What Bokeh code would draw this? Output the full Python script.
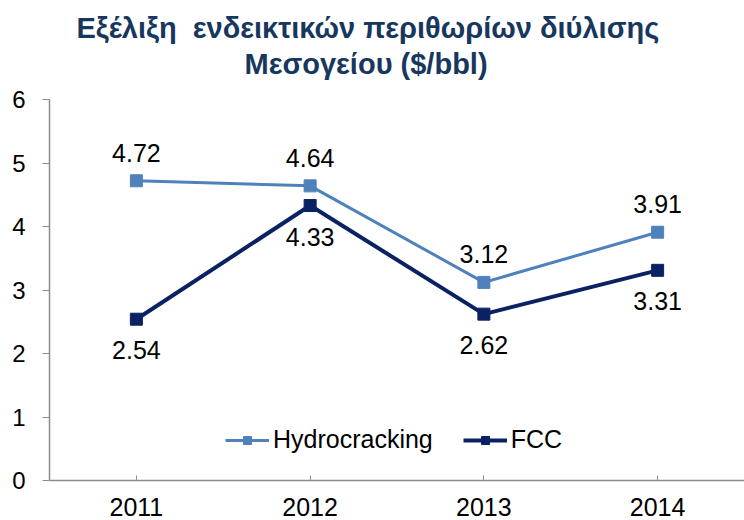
from bokeh.plotting import figure
from bokeh.models import (FactorRange, Range1d, FixedTicker, ColumnDataSource,
                          Legend, LegendItem, Title)
from bokeh.core.properties import value
from bokeh.embed import file_html
from bokeh.resources import INLINE

years = ["2011", "2012", "2013", "2014"]
hydrocracking = [4.72, 4.64, 3.12, 3.91]
fcc = [2.54, 4.33, 2.62, 3.31]
y_ticks = [0, 1, 2, 3, 4, 5, 6]
title_line1 = "Εξέλιξη\u00a0 ενδεικτικών περιθωρίων διύλισης"
title_line2 = "Μεσογείου ($/bbl)"

HC = "#4F81BD"
FC = "#0A2263"
TITLE_C = "#17375E"
AXIS_C = "#8C8C8C"
FONT = "Liberation Sans"

src = ColumnDataSource(dict(
    x=years, h=hydrocracking, f=fcc,
    hl=["%.2f" % v for v in hydrocracking],
    fl=["%.2f" % v for v in fcc],
))

p = figure(width=744, height=520, title=None,
           x_range=FactorRange(factors=years, range_padding=0),
           y_range=Range1d(0, 6),
           output_backend="svg", toolbar_location=None,
           min_border_left=49, min_border_right=0,
           min_border_top=99, min_border_bottom=40)

t2 = Title(text=title_line2, align="left", text_font=FONT,
           text_font_size="29px", text_font_style="bold",
           text_color=TITLE_C, offset=195, standoff=39)
t1 = Title(text=title_line1, align="left", text_font=FONT,
           text_font_size="29px", text_font_style="bold",
           text_color=TITLE_C, offset=27, standoff=-34.5)
p.add_layout(t2, "above")
p.add_layout(t1, "above")

p.outline_line_color = None
p.xgrid.grid_line_color = None
p.ygrid.grid_line_color = None
p.background_fill_color = "white"
p.border_fill_color = "white"

r1l = p.line(x="x", y="h", source=src, line_color=HC, line_width=3)
r1s = p.scatter(x="x", y="h", source=src, marker="square", size=12,
                fill_color=HC, line_color=HC)
r2l = p.line(x="x", y="f", source=src, line_color=FC, line_width=4)
r2s = p.scatter(x="x", y="f", source=src, marker="square", size=12,
                fill_color=FC, line_color=FC)

p.text(x="x", y="h", text="hl", source=src, y_offset=-28,
       text_align="center", text_baseline="middle",
       text_font=value(FONT), text_font_size="25px", text_color="black")
p.text(x="x", y="f", text="fl", source=src, y_offset=31,
       text_align="center", text_baseline="middle",
       text_font=value(FONT), text_font_size="25px", text_color="black")

# axes
p.yaxis.ticker = FixedTicker(ticks=y_ticks)
p.yaxis.minor_tick_line_color = None
p.yaxis.major_tick_out = 7
p.yaxis.major_tick_in = 0
p.yaxis.major_label_standoff = 17
for ax in (p.xaxis[0], p.yaxis[0]):
    ax.axis_line_color = AXIS_C
    ax.axis_line_width = 1.5
    ax.major_tick_line_color = AXIS_C
    ax.major_tick_line_width = 1
    ax.major_label_text_font = FONT
    ax.major_label_text_color = "black"
p.yaxis.major_label_text_font_size = "24px"
p.xaxis.major_label_text_font_size = "25px"
p.xaxis.major_tick_in = 5
p.xaxis.major_tick_out = 0
p.xaxis.major_label_standoff = 17

legend = Legend(items=[LegendItem(label="Hydrocracking", renderers=[r1l, r1s]),
                       LegendItem(label="FCC", renderers=[r2l, r2s])],
                orientation="horizontal", location=(176, 26),
                padding=0, margin=0, spacing=30, label_standoff=4,
                glyph_width=44, glyph_height=20,
                label_text_font=FONT, label_text_font_size="25px",
                label_text_color="black",
                background_fill_alpha=0, border_line_color=None)
p.add_layout(legend)

open("out.html", "w").write(file_html(p, INLINE))
